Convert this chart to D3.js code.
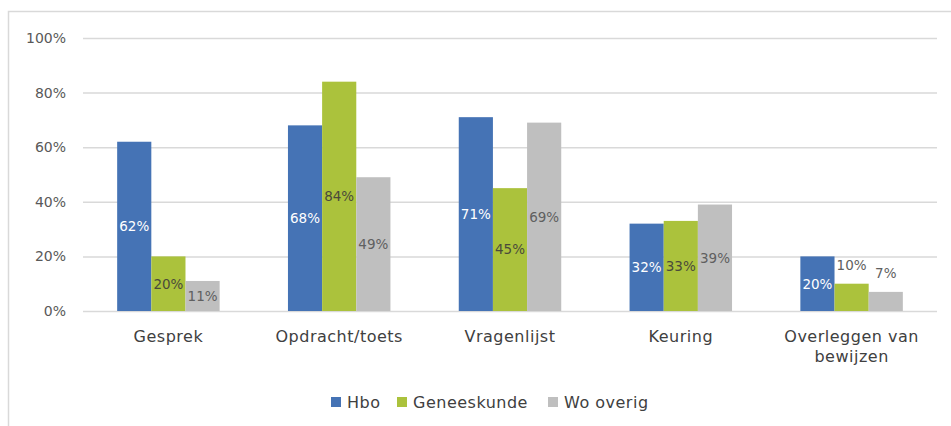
<!DOCTYPE html>
<html>
<head>
<meta charset="utf-8">
<script src="https://cdn.jsdelivr.net/npm/d3@7"></script>
<style>
  body { margin: 0; background: #fff; }
  svg { display: block; font-family: "DejaVu Sans", sans-serif; }
  .grid line { stroke: #d9d9d9; stroke-width: 1.5; }
  .grid .domain { display: none; }
  .ytick { fill: #595959; font-size: 14px; }
  .xlab { fill: #404040; font-size: 16px; letter-spacing: 0.5px; }
  .legend text { fill: #404040; font-size: 16px; letter-spacing: 0.5px; }
</style>
</head>
<body>
<div id="chart"></div>
<script>
const categories = ["Gesprek", "Opdracht/toets", "Vragenlijst", "Keuring", "Overleggen van bewijzen"];
const seriesNames = ["Hbo", "Geneeskunde", "Wo overig"];
const hbo = [62, 68, 71, 32, 20];
const geneeskunde = [20, 84, 45, 33, 10];
const woOverig = [11, 49, 69, 39, 7];
const yTicks = [0, 20, 40, 60, 80, 100];
// labels that sit above the bar instead of centered in it
const labelAbove = [[], [], [], [], ["Geneeskunde", "Wo overig"]];

const seriesValues = [hbo, geneeskunde, woOverig];
const colors = { "Hbo": "#4573b5", "Geneeskunde": "#abc23c", "Wo overig": "#bfbfbf" };
const labelColors = { "Hbo": "#ffffff", "Geneeskunde": "#4a4a3a", "Wo overig": "#606060" };

const width = 951, height = 426;
const margin = { top: 38, right: 14, bottom: 115, left: 83 };

const svg = d3.select("#chart").append("svg")
  .attr("width", width).attr("height", height);

// chart frame (top + left edge visible)
svg.append("path")
  .attr("d", `M8.5,${height} V11.5 H${width}`)
  .attr("fill", "none").attr("stroke", "#d9d9d9").attr("stroke-width", 1.5);

const x0 = d3.scaleBand().domain(categories).range([margin.left, width - margin.right]).paddingInner(0).paddingOuter(0);
const barW = x0.bandwidth() / 5;
const x1 = d3.scaleBand().domain(seriesNames).range([0, barW * 3]);
const y = d3.scaleLinear().domain([0, 100]).range([height - margin.bottom, margin.top]);

svg.append("g").attr("class", "grid")
  .attr("transform", `translate(${margin.left},0)`)
  .call(d3.axisLeft(y).tickValues(yTicks).tickSize(-(width - margin.right - margin.left)).tickFormat(""));

svg.append("g").selectAll("text").data(yTicks).join("text")
  .attr("class", "ytick")
  .attr("x", 66).attr("y", (d) => y(d)).attr("dy", "0.36em")
  .attr("text-anchor", "end")
  .text((d) => d + "%");

const rows = categories.map((c, i) => ({
  cat: c,
  items: seriesNames.map((s, j) => ({ s, v: seriesValues[j][i], above: labelAbove[i].includes(s) }))
}));

const groups = svg.append("g").selectAll("g").data(rows).join("g")
  .attr("transform", (d) => `translate(${x0(d.cat) + barW},0)`);

groups.selectAll("rect").data((d) => d.items).join("rect")
  .attr("x", (d) => x1(d.s))
  .attr("width", x1.bandwidth())
  .attr("y", (d) => y(d.v))
  .attr("height", (d) => y(0) - y(d.v))
  .attr("fill", (d) => colors[d.s]);

groups.selectAll("text").data((d) => d.items).join("text")
  .attr("x", (d) => x1(d.s) + x1.bandwidth() / 2)
  .attr("y", (d) => d.above ? y(d.v) - 19 : (y(d.v) + y(0)) / 2)
  .attr("dy", "0.36em")
  .attr("text-anchor", "middle")
  .attr("font-size", "13.5px")
  .attr("fill", (d) => d.above ? "#606060" : labelColors[d.s])
  .text((d) => d.v + "%");

// category labels, wrapped
svg.append("g").selectAll("text").data(categories).join("text")
  .attr("class", "xlab")
  .attr("x", (d) => x0(d) + x0.bandwidth() / 2)
  .attr("y", 336)
  .attr("text-anchor", "middle")
  .each(function(d) {
    const parts = d === "Overleggen van bewijzen" ? ["Overleggen van", "bewijzen"] : [d];
    const t = d3.select(this);
    parts.forEach((p, k) => {
      t.append("tspan").attr("x", x0(d) + x0.bandwidth() / 2).attr("dy", k === 0 ? "0.36em" : "1.25em").text(p);
    });
  });

// legend
const legendX = [331, 397, 548];
const legend = svg.append("g").attr("class", "legend");
seriesNames.forEach((s, i) => {
  legend.append("rect").attr("x", legendX[i]).attr("y", 397).attr("width", 10).attr("height", 10).attr("fill", colors[s]);
  legend.append("text").attr("x", legendX[i] + 16).attr("y", 402).attr("dy", "0.36em").text(s);
});
</script>
</body>
</html>
